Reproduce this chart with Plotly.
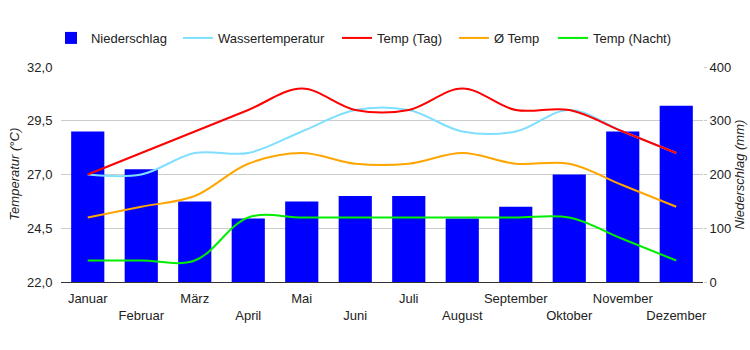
import plotly.graph_objects as go

months = ["Januar", "Februar", "März", "April", "Mai", "Juni", "Juli",
          "August", "September", "Oktober", "November", "Dezember"]
niederschlag = [280, 210, 150, 118, 150, 160, 160, 118, 140, 200, 280, 328]
wassertemp = [27.0, 27.0, 28.0, 28.0, 29.0, 30.0, 30.0, 29.0, 29.0, 30.0, 29.0, 28.0]
temp_tag = [27.0, 28.0, 29.0, 30.0, 31.0, 30.0, 30.0, 31.0, 30.0, 30.0, 29.0, 28.0]
temp_avg = [25.0, 25.5, 26.0, 27.5, 28.0, 27.5, 27.5, 28.0, 27.5, 27.5, 26.5, 25.5]
temp_nacht = [23.0, 23.0, 23.0, 25.0, 25.0, 25.0, 25.0, 25.0, 25.0, 25.0, 24.0, 23.0]

temp_ticks = [22.0, 24.5, 27.0, 29.5, 32.0]
rain_ticks = [0, 100, 200, 300, 400]

FONT = "Liberation Sans, Arial, sans-serif"
FS = 13
TXT = "#222222"

ticktext = [m if i % 2 == 0 else "<br>" + m for i, m in enumerate(months)]

legend_x = [-0.0156, 0.1822, 0.4299, 0.6121, 0.7664]
legend_ids = ["legend", "legend2", "legend3", "legend4", "legend5"]

fig = go.Figure()
fig.add_trace(go.Bar(x=months, y=niederschlag, name="Niederschlag",
                     marker=dict(color="#0000ff", line=dict(width=0)),
                     width=0.62, yaxis="y", legend=legend_ids[0]))
line_specs = [
    ("Wassertemperatur", wassertemp, "#80dfff"),
    ("Temp (Tag)", temp_tag, "#ff0000"),
    ("Ø Temp", temp_avg, "#ffa500"),
    ("Temp (Nacht)", temp_nacht, "#00ee00"),
]
for i, (name, vals, col) in enumerate(line_specs):
    fig.add_trace(go.Scatter(x=months, y=vals, name=name, mode="lines",
                             line=dict(color=col, width=2, shape="spline", smoothing=1.0),
                             yaxis="y2", legend=legend_ids[i + 1]))

leg_common = dict(orientation="h", xanchor="left", y=1.135, yanchor="middle",
                  font=dict(family=FONT, size=FS, color=TXT), itemwidth=30,
                  bgcolor="rgba(0,0,0,0)")
legends = {lid: dict(x=lx, **leg_common) for lid, lx in zip(legend_ids, legend_x)}

fig.update_layout(
    width=750, height=350,
    margin=dict(l=61, r=47, t=67, b=68),
    paper_bgcolor="white", plot_bgcolor="white",
    font=dict(family=FONT, size=FS, color=TXT),
    separators=",.",
    showlegend=True,
    xaxis=dict(type="category", tickmode="array", tickvals=months, ticktext=ticktext,
               tickangle=0,
               showline=True, linecolor="#333333", linewidth=1, showgrid=False,
               ticks="outside", ticklen=4, tickcolor="rgba(0,0,0,0)",
               tickfont=dict(family=FONT, size=FS, color=TXT),
               range=[-0.5, 11.5]),
    yaxis=dict(side="right", range=[0, 400], tickmode="array", tickvals=rain_ticks,
               showgrid=True, gridcolor="#cccccc", gridwidth=1, zeroline=False,
               ticks="outside", ticklen=3, tickcolor="#cccccc",
               tickfont=dict(family=FONT, size=FS, color=TXT)),
    yaxis2=dict(side="left", overlaying="y", range=[22, 32], tickmode="array",
                tickvals=temp_ticks, tickformat=".1f",
                showgrid=False, zeroline=False, ticks="outside", ticklen=5,
                tickcolor="rgba(0,0,0,0)",
                tickfont=dict(family=FONT, size=FS, color=TXT)),
    bargap=0.38,
    annotations=[
        dict(text="<i>Temperatur (°C)</i>", x=-0.073, y=0.5, xref="paper", yref="paper",
             textangle=-90, showarrow=False, xanchor="center", yanchor="middle",
             font=dict(family=FONT, size=FS, color=TXT)),
        dict(text="<i>Niederschlag (mm)</i>", x=1.0576, y=0.5, xref="paper", yref="paper",
             textangle=-90, showarrow=False, xanchor="center", yanchor="middle",
             font=dict(family=FONT, size=FS, color=TXT)),
    ],
    **legends,
)

fig.write_html("out.html")
